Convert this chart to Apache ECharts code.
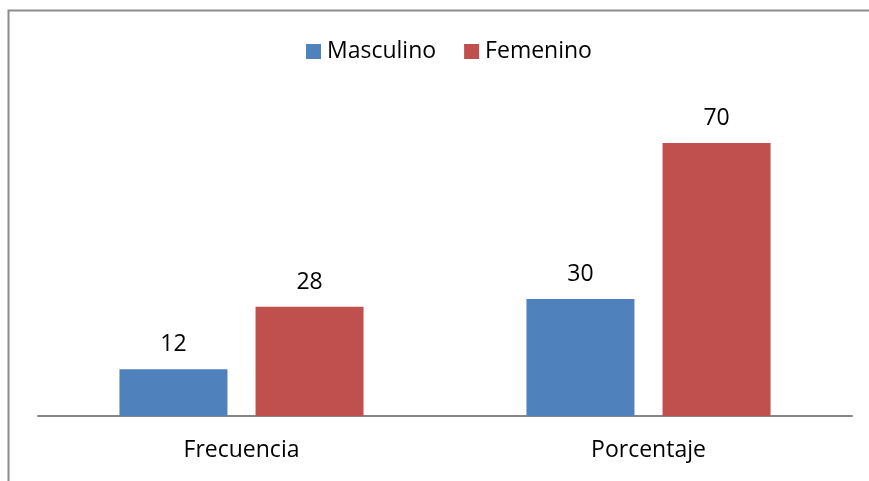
<!DOCTYPE html>
<html>
<head>
<meta charset="utf-8">
<script src="https://cdn.jsdelivr.net/npm/echarts@6/dist/echarts.min.js"></script>
<style>
  html, body { margin: 0; padding: 0; background: #fff; }
  #chart { width: 869px; height: 481px; }
</style>
</head>
<body>
<div id="chart"></div>
<script>
const categories = ['Frecuencia', 'Porcentaje']
const masculino = [12, 30]
const femenino = [28, 70]

const font = '"Open Sans", sans-serif'

const myChart = echarts.init(document.getElementById('chart'))
const option = {
  animation: false,
  color: ['#4F81BD', '#C0504D'],
  graphic: [{
    type: 'rect',
    shape: { x: 8.5, y: 10.5, width: 1000, height: 600 },
    style: { fill: 'none', stroke: '#8c8c8c', lineWidth: 2 },
    silent: true
  }],
  legend: {
    data: ['Masculino', 'Femenino'],
    top: 35,
    left: 301,
    icon: 'rect',
    itemWidth: 15,
    itemHeight: 15,
    itemGap: 28,
    textStyle: { fontFamily: font, fontSize: 23, color: '#000', padding: [0, 0, 0, 1] }
  },
  grid: { left: 38, right: 17, top: 104, bottom: 65 },
  xAxis: {
    type: 'category',
    data: categories,
    axisLine: { lineStyle: { color: '#868686', width: 2 } },
    axisTick: { show: false },
    axisLabel: { fontFamily: font, fontSize: 23, color: '#000', margin: 23 }
  },
  yAxis: {
    type: 'value',
    min: 0,
    max: 80,
    show: false,
    splitLine: { show: false }
  },
  series: [
    {
      name: 'Masculino',
      type: 'bar',
      data: masculino,
      barWidth: 108,
      barGap: '26%',
      label: { show: true, position: 'top', distance: 13, fontFamily: font, fontSize: 23, color: '#000' }
    },
    {
      name: 'Femenino',
      type: 'bar',
      data: femenino,
      barWidth: 108,
      label: { show: true, position: 'top', distance: 13, fontFamily: font, fontSize: 23, color: '#000' }
    }
  ]
}
myChart.setOption(option)
</script>
</body>
</html>
